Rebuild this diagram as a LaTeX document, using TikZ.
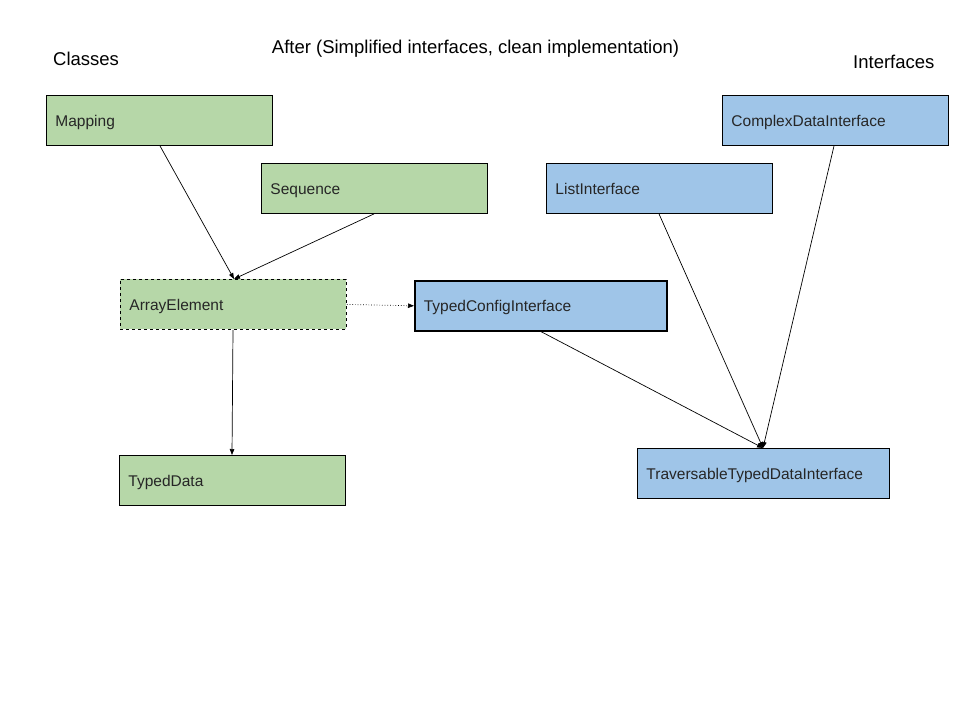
\documentclass[tikz,border=0pt]{standalone}
\usepackage{fontspec}
\setmainfont{Liberation Sans}
\usetikzlibrary{arrows.meta}
\definecolor{gfill}{HTML}{B6D7A8}
\definecolor{bfill}{HTML}{9FC5E8}
\begin{document}
\begin{tikzpicture}[x=1pt,y=-1pt,
  box/.style={draw=black, line width=0.9pt, anchor=north west, minimum height=50pt, inner xsep=9pt, text height=12pt, text depth=0pt, align=left, font=\fontsize{15.5}{18}\selectfont, text=black!85},
  gbox/.style={box, fill=gfill},
  bbox/.style={box, fill=bfill},
  head/.style={font=\fontsize{18.5}{22}\selectfont, text=black},
  arr/.style={-{Triangle[length=6pt,width=4.5pt]}, line width=0.7pt}]
\useasboundingbox (0,0) rectangle (960,720);
\node[head] (title) at (475.5,49) {After (Simplified interfaces, clean implementation)};
\node[head, anchor=west, inner xsep=0pt] (cls) at (53,59) {Classes};
\node[head, anchor=west, inner xsep=0pt] (ifs) at (853,62) {Interfaces};

\node[gbox, text width=208pt] (map) at (46,95) {Mapping};
\node[gbox, text width=208pt] (seq) at (261,163) {Sequence};
\node[gbox, text width=208pt, dashed] (ae) at (120,279) {ArrayElement};
\node[gbox, text width=208pt] (td) at (119,455) {TypedData};
\node[bbox, text width=208pt] (li) at (546,163) {ListInterface};
\node[bbox, text width=208pt] (cdi) at (722,95) {ComplexDataInterface};
\node[bbox, text width=234pt, line width=1.6pt] (tci) at (414,280) {TypedConfigInterface};
\node[bbox, text width=234pt] (ttdi) at (637,448) {TraversableTypedDataInterface};

\coordinate (aetop) at (234,279);
\coordinate (ttdtop) at (763,448);
\draw[arr] (map.south west) ++(114,0) -- (aetop);
\draw[arr] (seq.south west) ++(113,0) -- (aetop);
\draw[arr] (ae.south west) ++(113,0) -- (td.north west -| 232,0);
\draw[arr, dotted] (ae.east) -- (tci.west);
\draw[arr] (tci.south west) ++(127,0) -- (ttdtop);
\draw[arr] (li.south west) ++(113,0) -- (ttdtop);
\draw[arr] (cdi.south west) ++(112,0) -- (ttdtop);
\end{tikzpicture}
\end{document}
